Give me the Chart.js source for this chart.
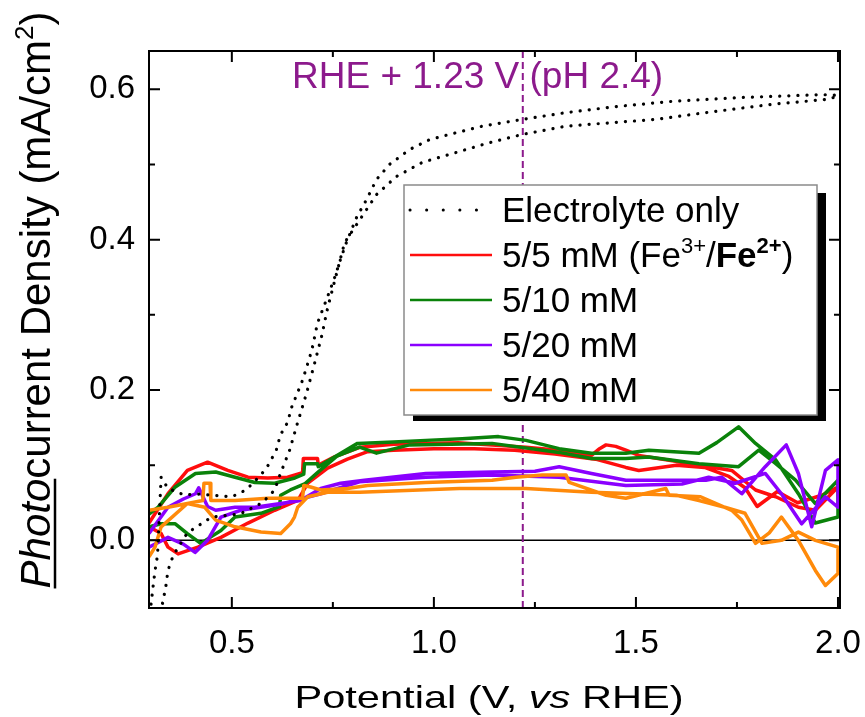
<!DOCTYPE html>
<html>
<head>
<meta charset="utf-8">
<script src="https://cdn.jsdelivr.net/npm/chart.js@4.4.0/dist/chart.umd.min.js"></script>
<style>
  body { margin: 0; background: #fff; }
  #chart { display: block; }
</style>
</head>
<body>
<canvas id="chart" width="865" height="717"></canvas>
<script>
// potential (V vs RHE) and photocurrent (mA/cm2), one loop per scan
const elecV = [0.300,0.305,0.310,0.316,0.325,0.342,0.384,0.410,0.450,0.500,0.535,0.572,0.590,0.610,0.620,0.638,0.648,0.675,0.698,0.712,0.734,0.754,0.771,0.784,0.809,0.833,0.858,0.890,0.940,0.989,1.038,1.120,1.219,1.327,1.450,1.590,1.754,1.960,2.000,
  1.980,1.836,1.673,1.550,1.450,1.327,1.219,1.137,1.055,0.972,0.907,0.858,0.779,0.737,0.722,0.705,0.685,0.663,0.643,0.619,0.606,0.575,0.520,0.450,0.390,0.355,0.342,0.337,0.330,0.326];
const elecJ = [-0.085,-0.062,-0.040,-0.020,0.084,0.069,0.060,0.062,0.060,0.058,0.067,0.087,0.100,0.120,0.140,0.157,0.177,0.213,0.253,0.289,0.320,0.349,0.377,0.397,0.430,0.453,0.480,0.500,0.520,0.533,0.540,0.551,0.560,0.569,0.577,0.584,0.589,0.593,0.592,
  0.587,0.580,0.569,0.560,0.556,0.551,0.540,0.529,0.516,0.503,0.484,0.460,0.396,0.309,0.271,0.236,0.196,0.157,0.120,0.087,0.067,0.050,0.035,0.031,0.010,-0.020,-0.040,-0.060,-0.080,-0.090];

const redV = [0.295,0.342,0.390,0.440,0.490,0.540,0.589,0.638,0.675,0.677,0.712,0.714,0.754,0.818,0.900,0.980,1.060,1.144,1.228,1.310,1.390,1.410,1.426,1.450,1.475,1.507,1.614,1.737,1.796,1.846,1.902,1.944,2.000,
  1.960,1.900,1.850,1.800,1.770,1.730,1.670,1.600,1.507,1.475,1.400,1.300,1.200,1.100,1.000,0.900,0.836,0.786,0.737,0.688,0.663,0.606,0.540,0.473,0.416,0.367,0.342,0.325,0.295];
const redJ = [0.023,0.062,0.093,0.104,0.093,0.084,0.083,0.084,0.090,0.109,0.109,0.100,0.111,0.124,0.128,0.129,0.130,0.127,0.124,0.120,0.113,0.122,0.127,0.125,0.120,0.113,0.104,0.093,0.067,0.058,0.044,0.040,0.071,
  0.060,0.050,0.065,0.045,0.070,0.085,0.097,0.100,0.093,0.097,0.108,0.115,0.120,0.122,0.122,0.120,0.118,0.108,0.096,0.076,0.053,0.040,0.023,0.004,-0.009,-0.018,-0.009,0.009,0.018];

const greenV = [0.295,0.317,0.360,0.410,0.460,0.508,0.557,0.606,0.656,0.678,0.680,0.712,0.714,0.754,0.811,0.900,0.980,1.070,1.160,1.228,1.310,1.390,1.475,1.532,1.656,1.700,1.754,1.796,1.846,1.902,1.944,2.000,
  2.000,1.944,1.895,1.846,1.804,1.754,1.656,1.532,1.475,1.390,1.310,1.144,0.940,0.858,0.816,0.760,0.712,0.680,0.645,0.621,0.618,0.572,0.508,0.473,0.423,0.390,0.360,0.325,0.295];
const greenJ = [0.035,0.044,0.071,0.089,0.091,0.084,0.077,0.076,0.083,0.088,0.102,0.102,0.098,0.111,0.129,0.131,0.133,0.135,0.138,0.133,0.122,0.116,0.116,0.120,0.116,0.130,0.151,0.129,0.107,0.062,0.023,0.031,
  0.080,0.049,0.080,0.102,0.120,0.098,0.102,0.111,0.109,0.109,0.117,0.129,0.127,0.116,0.124,0.112,0.090,0.075,0.067,0.060,0.045,0.036,0.031,0.013,-0.004,0.009,0.022,0.022,0.018];

const purpleV = [0.295,0.342,0.380,0.410,0.418,0.440,0.460,0.508,0.557,0.621,0.670,0.720,0.769,0.828,0.980,1.144,1.250,1.310,1.390,1.475,1.574,1.673,1.712,1.762,1.820,1.872,1.902,1.935,1.969,2.000,
  2.000,1.969,1.910,1.860,1.820,1.746,1.680,1.614,1.475,1.310,1.144,0.980,0.816,0.720,0.620,0.522,0.473,0.440,0.409,0.380,0.342,0.295];
const purpleJ = [0.009,0.044,0.055,0.062,0.070,0.045,0.040,0.044,0.044,0.049,0.053,0.069,0.076,0.080,0.089,0.091,0.092,0.098,0.089,0.080,0.080,0.080,0.084,0.062,0.098,0.127,0.089,0.018,0.093,0.107,
  0.044,0.058,0.022,0.062,0.089,0.076,0.084,0.075,0.073,0.084,0.087,0.084,0.078,0.062,0.048,0.040,0.031,0.000,-0.016,-0.005,0.004,-0.009];

const orangeV = [0.295,0.342,0.390,0.428,0.431,0.446,0.448,0.508,0.589,0.675,0.678,0.695,0.720,0.786,0.836,0.980,1.144,1.203,1.268,1.327,1.335,1.426,1.475,1.574,1.582,1.660,1.737,1.762,1.796,1.830,1.860,1.902,1.944,1.969,2.000,
  2.000,1.944,1.902,1.860,1.812,1.770,1.720,1.656,1.600,1.500,1.390,1.228,1.063,0.816,0.737,0.688,0.663,0.655,0.645,0.621,0.572,0.508,0.460,0.433,0.390,0.325,0.310,0.295];
const orangeJ = [0.040,0.044,0.049,0.053,0.076,0.076,0.053,0.053,0.056,0.056,0.073,0.071,0.067,0.069,0.073,0.077,0.080,0.084,0.087,0.087,0.077,0.060,0.056,0.069,0.060,0.058,0.040,0.027,-0.004,0.010,0.031,0.000,-0.040,-0.060,-0.044,
  -0.009,0.000,0.011,0.000,-0.004,0.036,0.044,0.053,0.060,0.062,0.064,0.069,0.069,0.064,0.064,0.058,0.044,0.031,0.022,0.009,0.011,0.018,0.027,0.044,0.049,0.018,-0.009,-0.022];

const xMajor = [0.5, 1.0, 1.5, 2.0];
const xMinor = [0.75, 1.25, 1.75];
const yMajor = [0.0, 0.2, 0.4, 0.6];
const yMinor = [0.1, 0.3, 0.5];
const rheLine = 1.22;

const FONT = '"Liberation Sans", Arial, sans-serif';
const PURPLE = '#8c1a8c';

function pts(xs, ys) {
  return xs.map((x, i) => ({ x: x, y: ys[i] }));
}

function drawRuns(ctx, runs, x, y, align) {
  let total = 0;
  runs.forEach(r => { ctx.font = r.font; r.w = ctx.measureText(r.text).width; total += r.w; });
  let cx = align === 'center' ? x - total / 2 : x;
  runs.forEach(r => {
    ctx.font = r.font;
    ctx.fillText(r.text, cx, y + (r.dy || 0));
    if (r.underline) {
      ctx.save();
      ctx.lineWidth = 2.5;
      ctx.beginPath();
      ctx.moveTo(cx, y + 5);
      ctx.lineTo(cx + r.w, y + 5);
      ctx.stroke();
      ctx.restore();
    }
    cx += r.w;
  });
}

const decor = {
  id: 'decor',
  beforeDatasetsDraw(chart) {
    const ctx = chart.ctx, a = chart.chartArea;
    const xs = chart.scales.x, ys = chart.scales.y;
    ctx.save();
    // zero line
    ctx.strokeStyle = '#000';
    ctx.lineWidth = 1.5;
    ctx.beginPath();
    ctx.moveTo(a.left, ys.getPixelForValue(0));
    ctx.lineTo(a.right, ys.getPixelForValue(0));
    ctx.stroke();
    // RHE + 1.23 V marker
    const px = xs.getPixelForValue(rheLine);
    ctx.strokeStyle = PURPLE;
    ctx.lineWidth = 2;
    ctx.setLineDash([7, 4]);
    ctx.beginPath();
    ctx.moveTo(px, a.top);
    ctx.lineTo(px, a.bottom);
    ctx.stroke();
    ctx.restore();
  },
  afterDraw(chart) {
    const ctx = chart.ctx, a = chart.chartArea;
    const xs = chart.scales.x, ys = chart.scales.y;
    ctx.save();
    // frame and inward ticks on all four sides
    ctx.strokeStyle = '#000';
    ctx.lineWidth = 2;
    ctx.strokeRect(a.left, a.top, a.right - a.left, a.bottom - a.top);
    ctx.beginPath();
    const tick = (vals, len) => {
      vals.forEach(v => {
        const p = xs.getPixelForValue(v);
        ctx.moveTo(p, a.bottom); ctx.lineTo(p, a.bottom - len);
        ctx.moveTo(p, a.top); ctx.lineTo(p, a.top + len);
      });
    };
    const ytick = (vals, len) => {
      vals.forEach(v => {
        const p = ys.getPixelForValue(v);
        ctx.moveTo(a.left, p); ctx.lineTo(a.left + len, p);
        ctx.moveTo(a.right, p); ctx.lineTo(a.right - len, p);
      });
    };
    tick(xMajor, 11); tick(xMinor, 6);
    ytick(yMajor, 11); ytick(yMinor, 6);
    ctx.stroke();

    // annotation text
    ctx.fillStyle = PURPLE;
    ctx.textBaseline = 'alphabetic';
    ctx.textAlign = 'left';
    ctx.font = '37px ' + FONT;
    ctx.fillText('RHE + 1.23 V (pH 2.4)', 292, 88);

    // legend box with drop shadow
    const L = { x: 404, y: 185, w: 413, h: 230 };
    ctx.fillStyle = '#000';
    ctx.fillRect(L.x + 9, L.y + 8, L.w, L.h - 2);
    ctx.fillStyle = '#fff';
    ctx.fillRect(L.x, L.y, L.w, L.h);
    ctx.strokeStyle = '#8a8a8a';
    ctx.lineWidth = 1.5;
    ctx.strokeRect(L.x, L.y, L.w, L.h);

    const f = '35px ' + FONT, fs = '22px ' + FONT;
    const fb = 'bold 35px ' + FONT, fbs = 'bold 22px ' + FONT;
    const labels = [
      [{ text: 'Electrolyte only', font: f }],
      [{ text: '5/5 mM (Fe', font: f }, { text: '3+', font: fs, dy: -14 }, { text: '/', font: f },
       { text: 'Fe', font: fb }, { text: '2+', font: fbs, dy: -14 }, { text: ')', font: f }],
      [{ text: '5/10 mM', font: f }],
      [{ text: '5/20 mM', font: f }],
      [{ text: '5/40 mM', font: f }]
    ];
    chart.data.datasets.forEach((ds, i) => {
      const y = 210 + i * 45;
      ctx.save();
      ctx.strokeStyle = ds.borderColor;
      if (ds.borderDash && ds.borderDash.length) {
        ctx.lineWidth = 3;
        ctx.lineCap = 'round';
        ctx.setLineDash([0.1, 16.5]);
      } else {
        ctx.lineWidth = 2.5;
      }
      ctx.beginPath();
      ctx.moveTo(410, y);
      ctx.lineTo(492, y);
      ctx.stroke();
      ctx.restore();
      ctx.fillStyle = '#000';
      drawRuns(ctx, labels[i], 502, y + 12, 'left');
    });

    // y title
    ctx.fillStyle = '#000';
    ctx.strokeStyle = '#000';
    ctx.save();
    ctx.translate(50, 300);
    ctx.rotate(-Math.PI / 2);
    drawRuns(ctx, [
      { text: 'Photo', font: 'italic 42px ' + FONT, underline: true },
      { text: 'current Density (mA/cm', font: '42px ' + FONT },
      { text: '2', font: '26px ' + FONT, dy: -17 },
      { text: ')', font: '42px ' + FONT }
    ], 0, 0, 'center');
    ctx.restore();

    // x title (the original is stretched sideways)
    ctx.save();
    ctx.translate(489, 708);
    ctx.scale(1.3, 1);
    drawRuns(ctx, [
      { text: 'Potential (V, ', font: '32px ' + FONT },
      { text: 'vs', font: 'italic 32px ' + FONT },
      { text: ' RHE)', font: '32px ' + FONT }
    ], 0, 0, 'center');
    ctx.restore();
    ctx.restore();
  }
};

const ctx = document.getElementById('chart').getContext('2d');

const chart = new Chart(ctx, {
  type: 'scatter',
  data: {
    datasets: [
      { label: 'Electrolyte only', data: pts(elecV, elecJ), borderColor: '#000', borderWidth: 3.2,
        borderDash: [0.1, 9], borderCapStyle: 'round', order: 0 },
      { label: '5/5 mM', data: pts(redV, redJ), borderColor: '#ff0d0d', borderWidth: 3.5, order: 4 },
      { label: '5/10 mM', data: pts(greenV, greenJ), borderColor: '#0a820a', borderWidth: 3.5, order: 3 },
      { label: '5/20 mM', data: pts(purpleV, purpleJ), borderColor: '#8a00ff', borderWidth: 3.5, order: 2 },
      { label: '5/40 mM', data: pts(orangeV, orangeJ), borderColor: '#ff8a0a', borderWidth: 3.5, order: 1 }
    ]
  },
  options: {
    responsive: false,
    animation: false,
    devicePixelRatio: 1,
    showLine: true,
    elements: {
      point: { radius: 0 },
      line: { tension: 0, borderJoinStyle: 'round' }
    },
    layout: { padding: { left: 0, top: 51, right: 25, bottom: 0 } },
    plugins: {
      legend: { display: false },
      tooltip: { enabled: false }
    },
    scales: {
      x: {
        type: 'linear',
        min: 0.295,
        max: 2.005,
        afterBuildTicks: s => { s.ticks = xMajor.map(v => ({ value: v })); },
        afterFit: s => { s.height = 109; s.paddingLeft = 0; s.paddingRight = 0; },
        grid: { display: false, drawTicks: false },
        border: { display: false },
        ticks: {
          padding: 16,
          color: '#000',
          font: { family: FONT, size: 33 },
          callback: v => v.toFixed(1)
        }
      },
      y: {
        type: 'linear',
        min: -0.09,
        max: 0.651,
        afterBuildTicks: s => { s.ticks = yMajor.map(v => ({ value: v })); },
        afterFit: s => { s.width = 149; s.paddingTop = 0; s.paddingBottom = 0; },
        grid: { display: false, drawTicks: false },
        border: { display: false },
        ticks: {
          padding: 14,
          color: '#000',
          font: { family: FONT, size: 33 },
          callback: v => v.toFixed(1)
        }
      }
    }
  },
  plugins: [decor]
});
</script>
</body>
</html>
